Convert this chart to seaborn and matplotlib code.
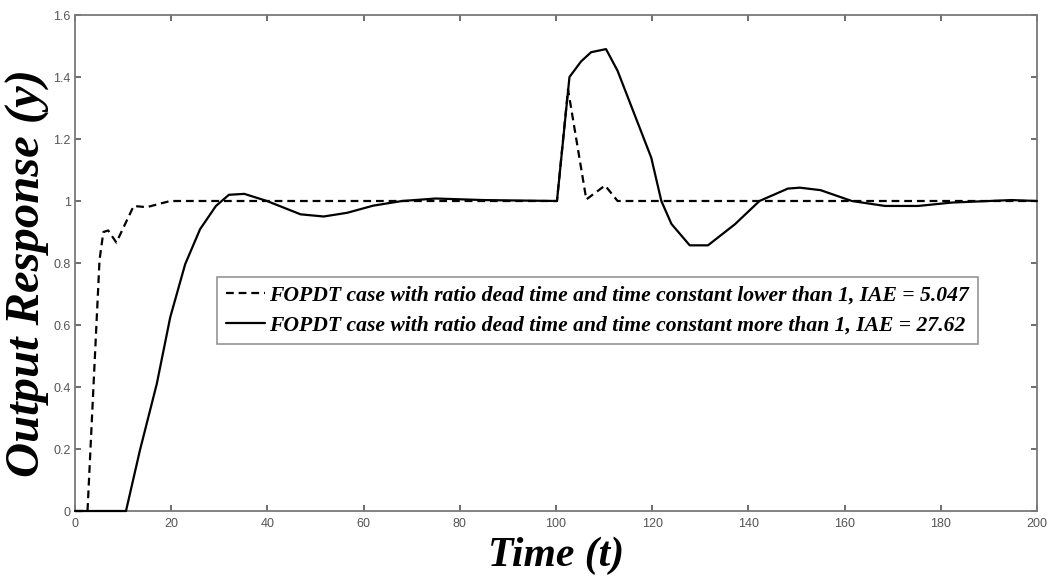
import matplotlib
matplotlib.use("Agg")
import matplotlib.pyplot as plt
from matplotlib.ticker import FormatStrFormatter
import seaborn as sns
import pandas as pd

# ---- data ----
t_low = [0, 2.6, 5.1, 5.9, 6.9, 8.6, 12.2, 14.9, 19.8, 100.2, 102.5, 106.3, 110.2, 112.8, 200]
y_low = [0, 0, 0.81, 0.90, 0.905, 0.866, 0.984, 0.98, 1.0, 1.0, 1.36, 1.005, 1.05, 1.0, 1.0]

t_high = [0, 10.6, 13.5, 17, 19.8, 22.9, 26, 29.3, 32, 35.2, 39.9, 46.9, 51.7, 56.6, 62, 68, 75, 85,
          100.2, 102.8, 105.2, 107.3, 110.4, 112.8, 116.3, 119.8, 121.9, 124, 127.8, 131.6, 137.2,
          142.3, 148.2, 150.7, 155, 161.5, 168.4, 175.3, 182.3, 194.7, 200]
y_high = [0, 0, 0.196, 0.41, 0.625, 0.796, 0.909, 0.984, 1.02, 1.023, 1.0, 0.957, 0.95, 0.962, 0.985,
          1.0, 1.008, 1.003, 1.0, 1.40, 1.45, 1.48, 1.49, 1.42, 1.28, 1.14, 1.0, 0.926, 0.857, 0.857,
          0.925, 1.0, 1.04, 1.043, 1.035, 1.0, 0.984, 0.984, 0.995, 1.003, 1.0]

label_low = "FOPDT case with ratio dead time and time constant lower than 1, IAE = 5.047"
label_high = "FOPDT case with ratio dead time and time constant more than 1, IAE = 27.62"

x_ticks = list(range(0, 201, 20))
y_ticks = [0, 0.2, 0.4, 0.6, 0.8, 1.0, 1.2, 1.4, 1.6]

df_low = pd.DataFrame({"t": t_low, "y": y_low})
df_high = pd.DataFrame({"t": t_high, "y": y_high})

sns.set_theme(style="white")
plt.rcParams["font.family"] = ["DejaVu Sans"]

fig = plt.figure(figsize=(10.53, 5.82), dpi=100)
ax = fig.add_axes([75 / 1053, 1 - 511 / 582, (1037 - 75) / 1053, (511 - 15) / 582])

sns.lineplot(data=df_low, x="t", y="y", ax=ax, color="black", lw=1.6, sort=False,
             estimator=None, label=label_low)
ax.lines[-1].set_dashes((3.5, 2.2))
sns.lineplot(data=df_high, x="t", y="y", ax=ax, color="black", lw=1.6, sort=False,
             estimator=None, label=label_high)
for ln in ax.lines:
    ln.set_clip_on(False)
    ln.set_zorder(3)

ax.set_xlim(0, 200)
ax.set_ylim(0, 1.6)
ax.set_xticks(x_ticks)
ax.set_yticks(y_ticks)
ax.yaxis.set_major_formatter(FormatStrFormatter("%g"))

for s in ax.spines.values():
    s.set_visible(True)
    s.set_color("#7a7a7a")
    s.set_linewidth(1.3)

ax.tick_params(axis="both", which="major", direction="in", length=4.5, width=1.2,
               color="#555555", top=True, right=True, bottom=True, left=True,
               labelsize=9, labelcolor="#555555")
ax.tick_params(axis="x", pad=5)
ax.tick_params(axis="y", pad=3)
for lab in ax.get_xticklabels() + ax.get_yticklabels():
    lab.set_family(["Liberation Sans Narrow", "Liberation Sans", "DejaVu Sans"])

ax.set_xlabel("Time (t)", fontsize=30, fontweight="bold", fontstyle="italic", color="black",
              family=["Liberation Serif", "DejaVu Serif"], labelpad=5)
ax.set_ylabel("Output Response (y)", fontsize=35, fontweight="bold", fontstyle="italic",
              color="black", family=["Liberation Serif", "DejaVu Serif"], va="center")
ax.yaxis.set_label_coords((28 - 75) / 962, (511 - 273) / 496)

leg = ax.legend(loc="upper left", bbox_to_anchor=(217 / 1053, 1 - 277 / 582),
                bbox_transform=fig.transFigure, borderaxespad=0, frameon=True,
                fancybox=False, edgecolor="#7a7a7a", handlelength=1.8, handletextpad=0.2,
                borderpad=0.4, labelspacing=0.45,
                prop={"family": ["Liberation Serif", "DejaVu Serif"], "weight": "bold",
                      "style": "italic", "size": 15.6})
leg.get_frame().set_linewidth(1.2)
for txt in leg.get_texts():
    txt.set_color("black")

fig.savefig("out.png", dpi=100)
